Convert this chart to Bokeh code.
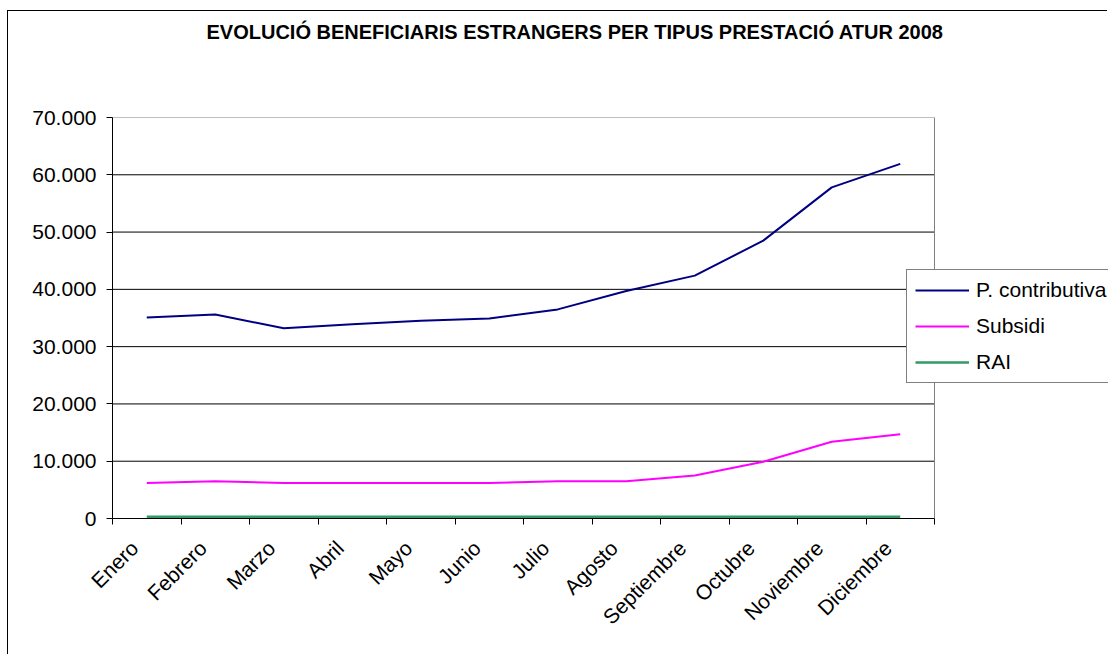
from math import pi
from bokeh.plotting import figure
from bokeh.models import (FixedTicker, Legend, LegendItem, ColumnDataSource, Range1d)
from bokeh.embed import file_html
from bokeh.resources import INLINE

months = ["Enero", "Febrero", "Marzo", "Abril", "Mayo", "Junio", "Julio",
          "Agosto", "Septiembre", "Octubre", "Noviembre", "Diciembre"]
contributiva = [35100, 35600, 33200, 33900, 34500, 34900, 36500, 39700,
                42400, 48500, 57800, 61900]
subsidi = [6200, 6500, 6200, 6200, 6200, 6200, 6500, 6500, 7500, 9900,
           13400, 14700]
rai = [300, 300, 300, 300, 300, 300, 300, 300, 300, 300, 300, 300]
series_names = ["P. contributiva", "Subsidi", "RAI"]
y_ticks = [0, 10000, 20000, 30000, 40000, 50000, 60000, 70000]
y_tick_labels = ["0", "10.000", "20.000", "30.000", "40.000", "50.000",
                 "60.000", "70.000"]
title_text = "EVOLUCIÓ BENEFICIARIS ESTRANGERS PER TIPUS PRESTACIÓ ATUR 2008"

FONT = "Liberation Sans"

# layout (pixels)
CANVAS_W, CANVAS_H = 1100, 644
LEFT, TOP, PLOT_W, PLOT_H = 104, 106, 822, 401
FRAME_W = CANVAS_W - LEFT          # frame runs to the canvas edge (legend overlaps)
n = len(months)
x_end = n * FRAME_W / PLOT_W
LABEL_SHIFT = 0.18                 # rotated labels end slightly left of centre

xpos = [i + 0.5 for i in range(n)]
label_pos = [x - LABEL_SHIFT for x in xpos]
src = ColumnDataSource(dict(x=xpos, c=contributiva, s=subsidi, r=rai))

p = figure(width=CANVAS_W, height=CANVAS_H, output_backend="svg",
           toolbar_location=None,
           x_range=Range1d(0, x_end), y_range=Range1d(y_ticks[0], y_ticks[-1]),
           min_border_left=LEFT, min_border_right=0,
           min_border_top=TOP, min_border_bottom=CANVAS_H - TOP - PLOT_H)
p.styles = {"border-left": "1px solid #000", "border-top": "1px solid #000",
            "margin-left": "7px", "margin-top": "10px"}
p.background_fill_color = "white"
p.border_fill_color = "white"
p.outline_line_color = None

p.title.text = title_text
p.title.text_font = FONT
p.title.text_font_style = "bold"
p.title.text_font_size = "20px"
p.title.text_color = "black"
p.title.align = "left"
p.title.offset = 94
p.title.vertical_align = "bottom"
p.title.standoff = 0
p.title.padding = (0, 0, 0, 75)   # (left, right, top, bottom)

# x axis: boundary ticks as minor ticks, labels near centres
xa = p.xaxis[0]
xa.bounds = (0, n)
xa.ticker = FixedTicker(ticks=label_pos, minor_ticks=list(range(n + 1)))
xa.major_label_overrides = {x: m for x, m in zip(label_pos, months)}
xa.major_tick_line_color = None
xa.minor_tick_line_color = "black"
xa.minor_tick_out = 6
xa.minor_tick_in = 0
xa.axis_line_color = "black"
xa.axis_line_width = 1
xa.major_label_orientation = pi / 4
xa.major_label_text_font = FONT
xa.major_label_text_font_size = "21px"
xa.major_label_text_color = "black"
xa.major_label_standoff = 20

ya = p.yaxis[0]
ya.ticker = FixedTicker(ticks=y_ticks)
ya.major_label_overrides = {t: l for t, l in zip(y_ticks, y_tick_labels)}
ya.major_tick_line_color = "black"
ya.major_tick_out = 6
ya.major_tick_in = 0
ya.minor_tick_line_color = None
ya.axis_line_color = "black"
ya.axis_line_width = 1
ya.major_label_text_font = FONT
ya.major_label_text_font_size = "21px"
ya.major_label_text_color = "black"
ya.major_label_standoff = 10

p.xgrid.grid_line_color = None
p.ygrid.grid_line_color = None

# horizontal gridlines across the plot area only, and plot-area border
p.segment(x0=0, x1=n, y0=y_ticks[1:-1], y1=y_ticks[1:-1],
          line_color="black", line_width=1)
p.segment(x0=[0, n], x1=[n, n], y0=[y_ticks[-1], y_ticks[0]],
          y1=[y_ticks[-1], y_ticks[-1]], line_color="#808080", line_width=1)

l1 = p.line("x", "c", source=src, line_color="#000080", line_width=2)
l2 = p.line("x", "s", source=src, line_color="#FF00FF", line_width=2)
l3 = p.line("x", "r", source=src, line_color="#339966", line_width=2.5)

legend = Legend(items=[LegendItem(label=series_names[0], renderers=[l1]),
                       LegendItem(label=series_names[1], renderers=[l2]),
                       LegendItem(label=series_names[2], renderers=[l3])],
                location=(794, 135))
legend.label_text_font = FONT
legend.label_text_font_size = "21px"
legend.label_text_color = "black"
legend.glyph_width = 54
legend.glyph_height = 20
legend.label_height = 20
legend.label_standoff = 7
legend.spacing = 12
legend.padding = 8
legend.margin = 0
legend.border_line_color = "black"
legend.border_line_width = 1
legend.background_fill_color = "white"
legend.background_fill_alpha = 1
p.add_layout(legend, "center")

open("out.html", "w").write(file_html(p, INLINE))
